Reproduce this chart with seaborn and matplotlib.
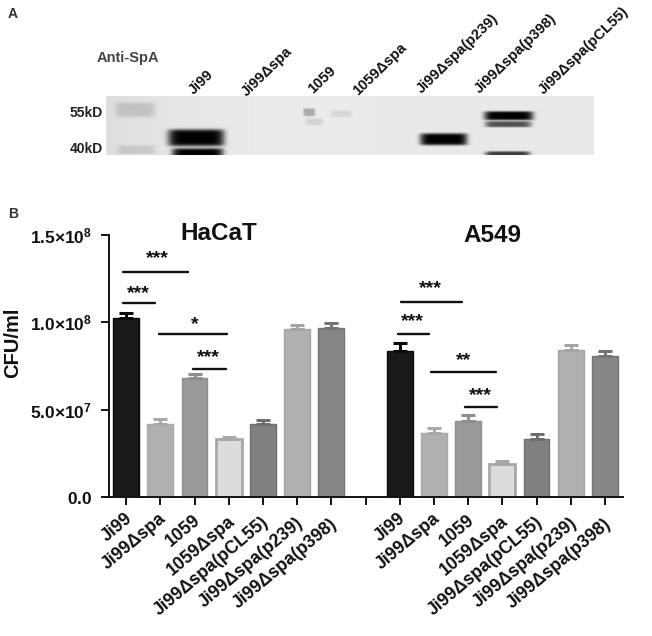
import numpy as np
import pandas as pd
import matplotlib
matplotlib.use("Agg")
import matplotlib.pyplot as plt
import seaborn as sns

sns.set_theme(style="white")
plt.rcParams['font.family'] = ['Liberation Sans', 'DejaVu Sans']
plt.rcParams['mathtext.fontset'] = 'custom'
plt.rcParams['mathtext.bf'] = 'Liberation Sans:bold'
plt.rcParams['mathtext.rm'] = 'Liberation Sans:bold'

strains = ["Ji99", "Ji99Δspa", "1059", "1059Δspa", "Ji99Δspa(pCL55)", "Ji99Δspa(p239)", "Ji99Δspa(p398)"]
hacat_mean = [1.027e8, 4.2e7, 6.8e7, 3.3e7, 4.16e7, 9.64e7, 9.7e7]
hacat_top = [1.054e8, 4.45e7, 7.03e7, 3.42e7, 4.41e7, 9.87e7, 9.98e7]
a549_mean = [8.38e7, 3.67e7, 4.37e7, 1.91e7, 3.34e7, 8.42e7, 8.06e7]
a549_top = [8.84e7, 3.97e7, 4.71e7, 2.04e7, 3.59e7, 8.7e7, 8.34e7]
fills = ["#191919", "#b0b0b0", "#999999", "#dcdcdc", "#808080", "#b0b0b0", "#868686"]
edges = ["#0a0a0a", "#a8a8a8", "#8e8e8e", "#a8a8a8", "#6e6e6e", "#a4a4a4", "#747474"]

blot_lanes = ["Ji99", "Ji99Δspa", "1059", "1059Δspa", "Ji99Δspa(p239)", "Ji99Δspa(p398)", "Ji99Δspa(pCL55)"]
lane_x = [191, 244, 310, 355, 419, 477, 541]
lane_y = [92, 94, 91, 93, 91, 91, 92]
# x0, x1, y0, y1, darkness of each band in the blot
bands = [
    (115, 155, 102, 117, 0.14),
    (117, 155, 145, 154, 0.11),
    (168, 224, 129, 146, 1.0),
    (172, 223, 148, 160, 1.0),
    (303, 315, 108, 116, 0.28),
    (330, 352, 110, 117, 0.08),
    (305, 323, 118, 125, 0.10),
    (420, 467, 133, 145, 1.0),
    (484, 533, 111, 120, 1.0),
    (485, 531, 121, 127, 0.65),
    (485, 530, 151, 158, 0.75),
]
# horizontal brightness of the membrane
membrane_x = [106, 170, 280, 415, 594]
membrane_v = [0.87, 0.895, 0.925, 0.915, 0.91]

fig = plt.figure(figsize=(6.52, 6.36), dpi=100)
W, H = 652, 636

def fx(px):
    return px / W

def fy(py):
    return 1 - py / H

# ---------- panel A
blot_ax = fig.add_axes([fx(106), fy(155), (594 - 106) / W, (155 - 96) / H])
gx, gy = np.meshgrid(np.arange(106, 594, 0.5), np.arange(96, 155, 0.5))
shade = np.interp(gx, membrane_x, membrane_v)
for x0, x1, y0, y1, d in bands:
    cx, cy = (x0 + x1) / 2, (y0 + y1) / 2
    hw, hh = (x1 - x0) / 2, (y1 - y0) / 2
    mask = np.exp(-((np.abs(gx - cx) / hw) ** 8 + (np.abs(gy - cy) / hh) ** 6))
    shade = shade * (1 - d * mask)
blot_ax.imshow(shade, cmap="gray", vmin=0, vmax=1, aspect="auto", interpolation="bilinear")
blot_ax.axis("off")

fig.text(fx(8), fy(18), "A", fontsize=10, fontweight="bold", color="#333333")
fig.text(fx(128), fy(58), "Anti-SpA", fontsize=10.5, fontweight="bold", color="#444444", ha="center", va="center")
fig.text(fx(103), fy(113), "55kD", fontsize=10, fontweight="bold", color="#222222", ha="right", va="center")
fig.text(fx(103), fy(149), "40kD", fontsize=10, fontweight="bold", color="#222222", ha="right", va="center")
for name, x, y in zip(blot_lanes, lane_x, lane_y):
    fig.text(fx(x), fy(y), name, fontsize=10.5, fontweight="bold", color="#111111",
             rotation=44, rotation_mode="anchor", ha="left", va="center")

# ---------- panel B
keys = [f"H{i}" for i in range(7)] + ["gap"] + [f"A{i}" for i in range(7)]
df = pd.DataFrame({
    "key": [f"H{i}" for i in range(7)] + [f"A{i}" for i in range(7)],
    "value": hacat_mean + a549_mean,
})
palette = {f"H{i}": c for i, c in enumerate(fills)}
palette.update({f"A{i}": c for i, c in enumerate(fills)})

ax = fig.add_axes([fx(109), fy(497), (622.7 - 109) / W, (497 - 235) / H])
sns.barplot(data=df, x="key", y="value", hue="key", order=keys, hue_order=list(palette),
            palette=palette, dodge=False, width=0.75, saturation=1, legend=False, ax=ax, errorbar=None)
edge_seq = edges + [None] + edges
for patch in ax.patches:
    if patch.get_height() and not np.isnan(patch.get_height()):
        idx = int(round(patch.get_x() + patch.get_width() / 2))
        patch.set_edgecolor(edge_seq[idx])
        patch.set_linewidth(2.0 if idx in (3, 11) else 1.0)

for start, means, tops in [(0, hacat_mean, hacat_top), (8, a549_mean, a549_top)]:
    for i, (m, t) in enumerate(zip(means, tops)):
        ax.errorbar(start + i, m, yerr=[[0], [t - m]], color=edge_seq[i], elinewidth=2.2,
                    capsize=5, capthick=2.2, zorder=1.5)

ax.set_xlim(-0.5, 14.52)
ax.set_ylim(0, 1.5e8)
sns.despine(ax=ax)
for s in ("left", "bottom"):
    ax.spines[s].set_linewidth(1.4)
    ax.spines[s].set_color("#111111")
ax.set_yticks([0, 5e7, 1e8, 1.5e8])
ax.set_yticklabels([r"$\mathbf{0.0}$", r"$\mathbf{5.0{\times}10^{7}}$", r"$\mathbf{1.0{\times}10^{8}}$", r"$\mathbf{1.5{\times}10^{8}}$"],
                   fontsize=12.5, color="#111111")
ax.tick_params(axis="y", length=6, width=1.4, color="#111111", left=True, pad=6)
ax.tick_params(axis="x", length=6, width=1.4, color="#111111", bottom=True)
ax.set_xticks(range(15))
ax.set_xticklabels([""] * 15)
ax.set_xlabel("")
ax.set_ylabel("")

for i, name in enumerate(strains):
    for start in (0, 8):
        tick_px = 126 + 34.2 * (start + i)
        fig.text(fx(tick_px + 4), fy(516 + 0.9 * i), name, fontsize=12.8, fontweight="bold", color="#111111",
                 rotation=40, rotation_mode="anchor", ha="right", va="center")

fig.text(fx(13), fy(343), "CFU/ml", fontsize=14.5, fontweight="bold", rotation=90, ha="center", va="center", color="#111111")
fig.text(fx(219), fy(233), "HaCaT", fontsize=17.5, fontweight="bold", ha="center", va="center", color="#111111")
fig.text(fx(492.7), fy(236), "A549", fontsize=17.5, fontweight="bold", ha="center", va="center", color="#111111")
fig.text(fx(8), fy(218), "B", fontsize=10, fontweight="bold", color="#333333")

def dx(px):
    return (px - 126) / 34.2

def dy(py):
    return (497 - py) / 87.3 * 5e7

brackets = [
    (123.3, 188.3, 271.7), (123.3, 155, 303.3), (159, 227.3, 333.7), (193.3, 226, 369),
    (400.7, 461.7, 302), (398.3, 428.7, 333.7), (431, 495.7, 371.7), (465.3, 497, 407),
]
for x0, x1, y in brackets:
    ax.plot([dx(x0), dx(x1)], [dy(y), dy(y)], color="#111111", lw=1.7, solid_capstyle="round", zorder=5)

stars = [
    (157, 256, "***"), (138.7, 291, "***"), (194.3, 322, "*"), (208, 355, "***"),
    (430.7, 285.3, "***"), (412.3, 318.3, "***"), (463.3, 357.7, "**"), (480.7, 392.7, "***"),
]
for x, y, s in stars:
    ax.text(dx(x), dy(y + 3), s, fontsize=14, fontweight="bold", ha="center", va="center", color="#111111")

fig.savefig("out.png", dpi=100, facecolor="white")
